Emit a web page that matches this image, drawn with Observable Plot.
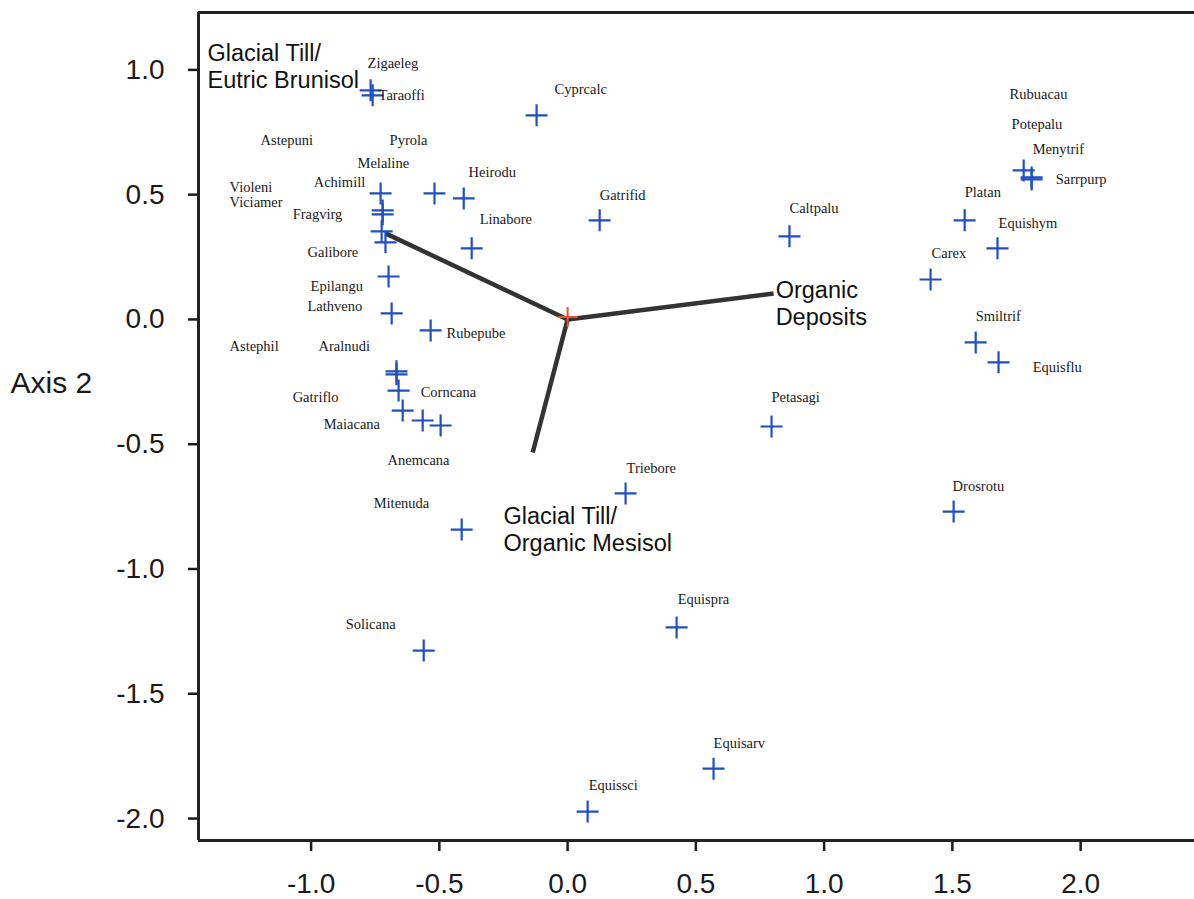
<!DOCTYPE html>
<html>
<head>
<meta charset="utf-8">
<script src="https://cdn.jsdelivr.net/npm/d3@7"></script>
<script src="https://cdn.jsdelivr.net/npm/@observablehq/plot@0.6"></script>
<style>
  html, body { margin: 0; padding: 0; background: #fff; }
</style>
</head>
<body>
<div id="chart"></div>
<script>
// Species scores (crosses)
const pointX = [-0.768, -0.760, -0.121, -0.729, -0.519, -0.405, -0.721, -0.721, -0.725, -0.710,
                -0.374, -0.698, -0.686, -0.534, -0.667, -0.667, -0.659, -0.643, -0.565, -0.495,
                -0.413, -0.561, 0.125, 0.865, 0.795, 0.226, 0.425, 0.569, 0.078, 1.778,
                1.809, 1.809, 1.548, 1.676, 1.415, 1.591, 1.680, 1.505];
const pointY = [0.918, 0.898, 0.818, 0.505, 0.505, 0.485, 0.437, 0.421, 0.353, 0.309,
                0.285, 0.172, 0.024, -0.044, -0.208, -0.220, -0.285, -0.365, -0.405, -0.425,
                -0.842, -1.327, 0.397, 0.333, -0.429, -0.697, -1.234, -1.800, -1.972, 0.597,
                0.569, 0.561, 0.397, 0.285, 0.160, -0.092, -0.172, -0.770];

// Species labels and their positions (data units)
const labelText = ["Zigaeleg","Taraoffi","Cyprcalc","Astepuni","Pyrola","Melaline","Heirodu","Achimill",
  "Violeni","Viciamer","Fragvirg","Gatrifid","Linabore","Caltpalu","Galibore","Epilangu","Lathveno",
  "Rubepube","Astephil","Aralnudi","Corncana","Gatriflo","Maiacana","Anemcana","Mitenuda","Petasagi",
  "Triebore","Solicana","Equispra","Equisarv","Equissci","Rubuacau","Potepalu","Menytrif","Sarrpurp",
  "Platan","Equishym","Carex","Smiltrif","Equisflu","Drosrotu"];
const labelX = [-0.780,-0.737,-0.051,-1.197,-0.694,-0.819,-0.386,-0.990,
  -1.318,-1.318,-1.072,0.125,-0.343,0.865,-1.014,-1.002,-1.014,
  -0.472,-1.318,-0.971,-0.573,-1.072,-0.951,-0.702,-0.756,0.795,
  0.230,-0.865,0.429,0.569,0.082,1.723,1.731,1.813,1.903,
  1.548,1.680,1.419,1.591,1.813,1.501];
const labelY = [1.026,0.898,0.922,0.717,0.717,0.625,0.589,0.549,
  0.529,0.469,0.421,0.497,0.401,0.445,0.269,0.132,0.052,
  -0.056,-0.108,-0.108,-0.293,-0.313,-0.421,-0.565,-0.737,-0.313,
  -0.597,-1.222,-1.122,-1.699,-1.868,0.902,0.782,0.681,0.561,
  0.509,0.385,0.265,0.012,-0.192,-0.669];

// Environmental vectors (from origin)
const vectorName = ["Glacial Till/\nEutric Brunisol", "Organic\nDeposits", "Glacial Till/\nOrganic Mesisol"];
const vectorX = [-0.710, 0.803, -0.136];
const vectorY = [0.345, 0.104, -0.533];
const vectorLabelX = [-1.404, 0.811, -0.250];
const vectorLabelY = [1.016, 0.066, -0.840];

// Axes
const xTicks = [-1.0, -0.5, 0.0, 0.5, 1.0, 1.5, 2.0];
const yTicks = [1.0, 0.5, 0.0, -0.5, -1.0, -1.5, -2.0];
const xDomain = [-1.439, 2.444];
const yDomain = [-2.088, 1.230];
const yAxisTitle = "Axis 2";

const points = pointX.map((x, i) => ({x, y: pointY[i]}));
const labels = labelText.map((t, i) => ({t, x: labelX[i], y: labelY[i]}));
const vectors = vectorName.map((n, i) => ({n, x: vectorX[i], y: vectorY[i], lx: vectorLabelX[i], ly: vectorLabelY[i]}));

const plusSym = {
  draw(ctx, size) {
    const r = Math.sqrt(size / Math.PI);
    ctx.moveTo(-r, 0); ctx.lineTo(r, 0);
    ctx.moveTo(0, -r); ctx.lineTo(0, r);
  }
};

const fmt = d => d.toFixed(1);
const sans = "Liberation Sans, Arial, sans-serif";
const serif = "Liberation Serif, Times New Roman, serif";

const chart = Plot.plot({
  width: 1194,
  height: 899,
  marginLeft: 198,
  marginRight: 0,
  marginTop: 12,
  marginBottom: 59,
  style: {background: "#fff", fontFamily: sans},
  x: {domain: xDomain},
  y: {domain: yDomain},
  marks: [
    Plot.axisX({ticks: xTicks, tickFormat: fmt, tickSize: 11, tickPadding: 22, fontSize: 28,
      fontFamily: sans, color: "#1a1a1a", strokeWidth: 2.5, label: null}),
    Plot.axisY({ticks: yTicks, tickFormat: fmt, tickSize: 10, tickPadding: 24, fontSize: 28,
      fontFamily: sans, color: "#1a1a1a", strokeWidth: 2.5, label: null}),
    Plot.ruleX([xDomain[0]], {stroke: "#222", strokeWidth: 3}),
    Plot.ruleY([yDomain[0]], {stroke: "#222", strokeWidth: 3}),
    Plot.ruleY([yDomain[1]], {stroke: "#222", strokeWidth: 3}),
    Plot.text([yAxisTitle], {frameAnchor: "left", y: -0.256, dx: -188, textAnchor: "start",
      fontSize: 30, fontFamily: sans, fill: "#1a1a1a"}),
    Plot.link(vectors, {x1: () => 0, y1: () => 0, x2: "x", y2: "y", stroke: "#333", strokeWidth: 4.5}),
    Plot.dot([{x: 0, y: 0.01}], {x: "x", y: "y", r: 10, symbol: plusSym, stroke: "#f0502a", strokeWidth: 2, fill: "none"}),
    Plot.dot(points, {x: "x", y: "y", r: 11, symbol: plusSym, stroke: "#1f4fc0", strokeWidth: 2.2, fill: "none"}),
    Plot.text(labels, {x: "x", y: "y", text: "t", textAnchor: "start", fontSize: 14.5, fontFamily: serif, fill: "#1a1a1a"}),
    Plot.text(vectors, {x: "lx", y: "ly", text: "n", textAnchor: "start", fontSize: 23.5, lineHeight: 1.15,
      fontFamily: sans, fill: "#111"})
  ]
});
document.getElementById("chart").appendChild(chart);
</script>
</body>
</html>
